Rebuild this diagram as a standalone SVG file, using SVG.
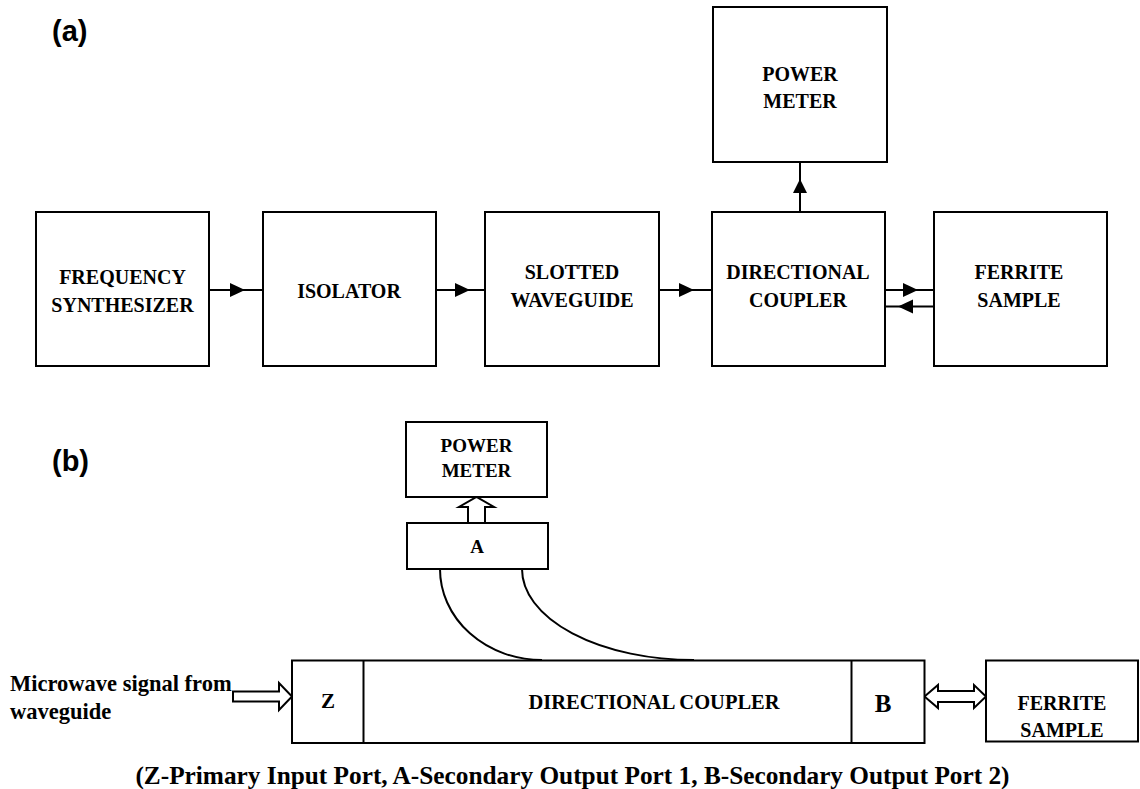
<svg xmlns="http://www.w3.org/2000/svg" width="1140" height="789" viewBox="0 0 1140 789">
<style>
.box{fill:#fff;stroke:#000;stroke-width:2}
.ln{fill:none;stroke:#000;stroke-width:2}
.hd{fill:#000;stroke:none}
.hol{fill:#fff;stroke:#000;stroke-width:2;stroke-linejoin:miter}
.t{font-family:"Liberation Serif","Times New Roman",serif;font-weight:bold;font-size:20px;text-anchor:middle;fill:#000}
.lab{font-family:"Liberation Sans",Arial,sans-serif;font-weight:bold;font-size:29px;fill:#000}
</style>
<rect width="1140" height="789" fill="#fff"/>
<text class="lab" x="52" y="41">(a)</text>
<text class="lab" x="52" y="471">(b)</text>

<g id="connectors">
  <line class="ln" x1="209" y1="290" x2="263" y2="290"/>
  <polygon class="hd" points="230,283 245,290 230,297"/>
  <line class="ln" x1="436" y1="290" x2="485" y2="290"/>
  <polygon class="hd" points="455,283 470,290 455,297"/>
  <line class="ln" x1="659" y1="290" x2="712" y2="290"/>
  <polygon class="hd" points="679,283 694,290 679,297"/>
  <line class="ln" x1="800" y1="212" x2="800" y2="162"/>
  <polygon class="hd" points="793,193 800,179 807,193"/>
  <line class="ln" x1="885" y1="290" x2="934" y2="290"/>
  <polygon class="hd" points="903,283 918,290 903,297"/>
  <line class="ln" x1="883" y1="306.5" x2="934" y2="306.5"/>
  <polygon class="hd" points="913,299.5 898,306.5 913,313.5"/>
  <path class="ln" d="M440,569 A102,91 0 0 0 542,660"/>
  <path class="ln" d="M522,569 A172,91 0 0 0 694,660"/>
  <polygon class="hol" points="468,523 468,507 459,507 476.5,497 494,507 485,507 485,523"/>
  <polygon class="hol" points="233,691.5 279,691.5 279,683 292,696.5 279,710 279,701.5 233,701.5"/>
  <polygon class="hol" points="924.5,696.5 938,685 938,691 974,691 974,685 986,696.5 974,708 974,702 938,702 938,708"/>
</g>

<g id="a-frequency-synthesizer">
  <rect class="box" x="36" y="212" width="173" height="154"/>
  <text class="t" x="122.5" y="284">FREQUENCY</text>
  <text class="t" x="122.5" y="312">SYNTHESIZER</text>
</g>
<g id="a-isolator">
  <rect class="box" x="263" y="212" width="173" height="154"/>
  <text class="t" x="349" y="298">ISOLATOR</text>
</g>
<g id="a-slotted-waveguide">
  <rect class="box" x="485" y="212" width="174" height="154"/>
  <text class="t" x="572" y="279">SLOTTED</text>
  <text class="t" x="572" y="307">WAVEGUIDE</text>
</g>
<g id="a-directional-coupler">
  <rect class="box" x="712" y="212" width="173" height="154"/>
  <text class="t" x="798" y="279">DIRECTIONAL</text>
  <text class="t" x="798" y="307">COUPLER</text>
</g>
<g id="a-ferrite-sample">
  <rect class="box" x="934" y="212" width="173" height="154"/>
  <text class="t" x="1019" y="279">FERRITE</text>
  <text class="t" x="1019" y="307">SAMPLE</text>
</g>
<g id="a-power-meter">
  <rect class="box" x="713" y="7" width="174" height="155"/>
  <text class="t" x="800" y="81">POWER</text>
  <text class="t" x="800" y="108">METER</text>
</g>

<g id="b-power-meter">
  <rect class="box" x="406" y="422" width="141" height="75"/>
  <text class="t" x="476.5" y="452" style="font-size:19px">POWER</text>
  <text class="t" x="476.5" y="477" style="font-size:19px">METER</text>
</g>
<g id="b-port-a">
  <rect class="box" x="407" y="523" width="141" height="46"/>
  <text class="t" x="477" y="553" style="font-size:19px">A</text>
</g>
<g id="b-directional-coupler">
  <rect class="box" x="292" y="660.5" width="632.5" height="82.5"/>
  <line class="ln" x1="363.5" y1="660.5" x2="363.5" y2="743"/>
  <line class="ln" x1="851.5" y1="660.5" x2="851.5" y2="743"/>
  <text class="t" x="328" y="708" style="font-size:21px">Z</text>
  <text class="t" x="654" y="709" style="font-size:20.5px">DIRECTIONAL COUPLER</text>
  <text class="t" x="883" y="712" style="font-size:25px">B</text>
</g>
<g id="b-ferrite-sample">
  <rect class="box" x="986" y="660.5" width="152" height="81"/>
  <text class="t" x="1062" y="710">FERRITE</text>
  <text class="t" x="1062" y="737">SAMPLE</text>
</g>
<g id="b-input-label">
  <text class="t" x="10" y="691" style="font-size:22.5px;text-anchor:start">Microwave signal from</text>
  <text class="t" x="10" y="719" style="font-size:22.5px;text-anchor:start">waveguide</text>
</g>
<text class="t" x="572.5" y="784" style="font-size:25.3px">(Z-Primary Input Port, A-Secondary Output Port 1, B-Secondary Output Port 2)</text>
</svg>
